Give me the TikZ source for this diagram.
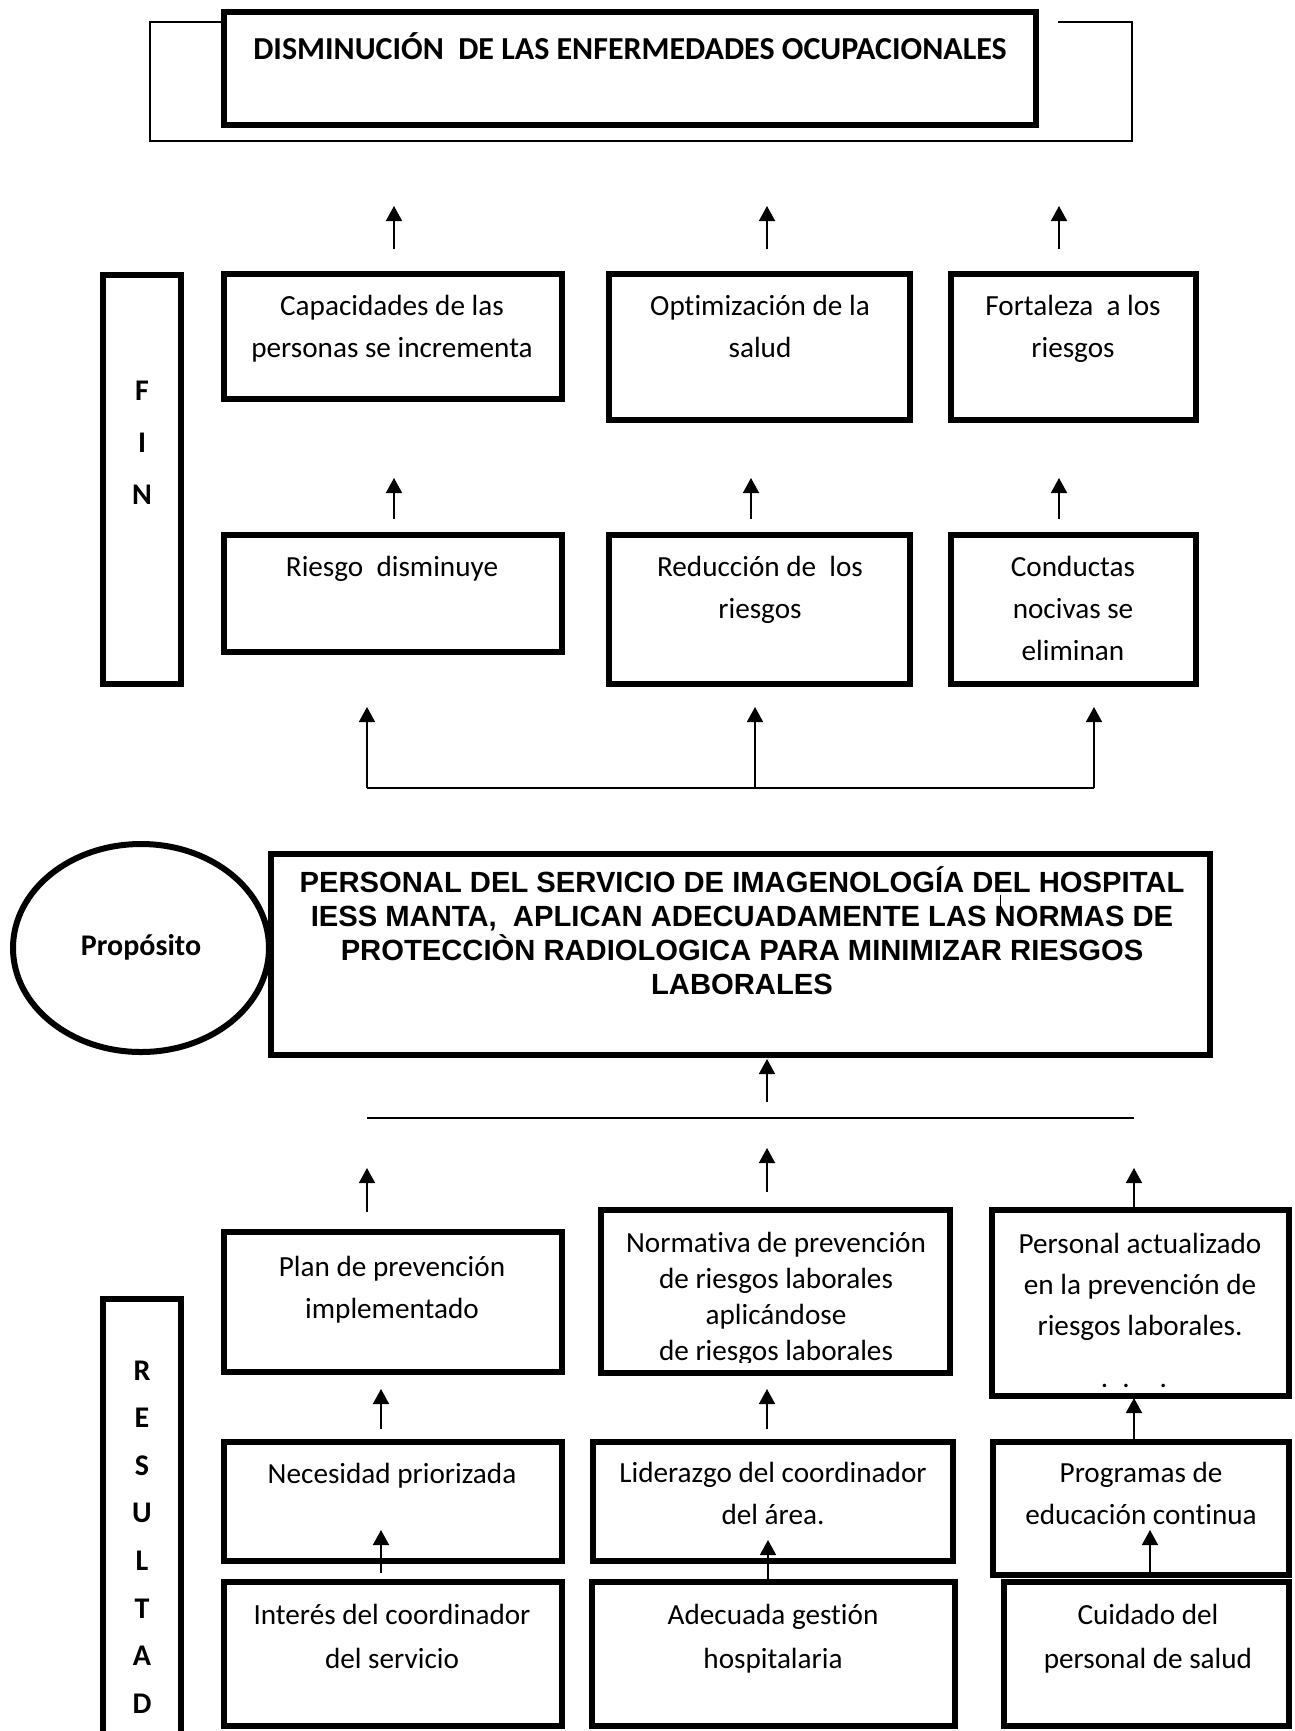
\documentclass[tikz,border=0pt]{standalone}
\usepackage{fontspec}
\setmainfont{Carlito}[Ligatures={NoCommon}]
\newfontfamily\arialfont{Liberation Sans}
\usetikzlibrary{arrows.meta,shapes.geometric}
\newcommand\mkbox[5]{\node[box, minimum width={(#4-#2)*0.5pt}, minimum height={(#5-#3)*0.5pt}] (#1) at ({(#2+#4)/2},{(#3+#5)/2}) {};}
\begin{document}
\begin{tikzpicture}[x=0.5pt,y=-0.5pt,
  box/.style={draw, line width=3pt, fill=white, inner sep=0pt, outer sep=0pt},
  txt/.style={align=center, inner sep=0pt, font=\fontsize{14.6}{21}\selectfont,
              execute at begin node=\strut, execute at end node=\strut},
  ltr/.style={align=center, inner sep=0pt, font=\fontsize{15}{#1}\selectfont\bfseries},
  arr/.style={line width=0.8pt, -{Triangle[width=8pt,length=7.5pt]}},
  thinline/.style={line width=0.8pt},
]
\useasboundingbox (0,0) rectangle (1295,1731);
\fill[white] (0,0) rectangle (1295,1731);

% ---- top frame and title
\coordinate (fr1) at (221,22); \coordinate (fr2) at (150,22); \coordinate (fr3) at (150,141);
\coordinate (fr4) at (1132,141); \coordinate (fr5) at (1132,22); \coordinate (fr6) at (1058,22);
\draw[thinline] (fr1) -- (fr2) -- (fr3) -- (fr4) -- (fr5) -- (fr6);
\mkbox{title}{224}{12}{1036}{125}
\node[inner sep=0pt, font=\fontsize{16}{19}\selectfont\bfseries] (titletxt) at (630,46) {DISMINUCIÓN~~DE LAS ENFERMEDADES OCUPACIONALES};

% ---- FIN
\mkbox{fin}{103}{275}{181}{684}
\node[ltr=26pt] (fintxt) at (142,443) {F\\I\\N};

% ---- row 2
\mkbox{A}{224}{274}{562}{399}
\mkbox{B}{609}{274}{910}{420}
\mkbox{C}{951}{274}{1196}{420}
\node[txt] (Atxt) at (392,333) {Capacidades de las\\personas se incrementa};
\node[txt] (Btxt) at (760,333) {Optimización de la\\salud};
\node[txt] (Ctxt) at (1073,333) {Fortaleza~~a los\\riesgos};

% ---- row 3
\mkbox{D}{224}{535}{562}{652}
\mkbox{E}{609}{535}{910}{684}
\mkbox{F}{951}{535}{1196}{684}
\node[txt] (Dtxt) at (392,568) {Riesgo~~disminuye};
\node[txt] (Etxt) at (760,594) {Reducción de~~los\\riesgos};
\node[txt] (Ftxt) at (1073,615) {Conductas\\nocivas se\\eliminan};

% ---- arrows upper part
\foreach \n/\x/\ya/\yb in {u1/394/249/206, u2/767/249/206, u3/1059/249/206,
                           m1/394/519/478, m2/751/519/478, m3/1059/519/478,
                           b1/367/788/707, b2/755/788/707, b3/1094/788/707}{
  \coordinate (\n s) at (\x,\ya); \coordinate (\n e) at (\x,\yb);
  \draw[arr] (\n s) -- (\n e);
}
\draw[thinline] (b1s) -- (b3s);

% ---- purpose
\node[draw, line width=3pt, ellipse, minimum width=128pt, minimum height=104pt, inner sep=0pt] (prop) at (141,948) {};
\node[inner sep=0pt, font=\fontsize{15}{18}\selectfont\bfseries] (proptxt) at (141,947) {Propósito};
\mkbox{purp}{271}{854}{1210}{1055}
\node[align=center, inner sep=0pt, font=\arialfont\fontsize{14.6}{17}\selectfont\bfseries] (purptxt) at (742,931)
  {PERSONAL DEL SERVICIO DE IMAGENOLOGÍA DEL HOSPITAL\\IESS MANTA,~~APLICAN ADECUADAMENTE LAS NORMAS DE\\PROTECCIÒN RADIOLOGICA PARA MINIMIZAR RIESGOS\\LABORALES};
\coordinate (st1) at (1000,895); \coordinate (st2) at (1000,923);
\draw[line width=0.5pt] (st1) -- (st2);

% ---- arrow into purpose and bar
\coordinate (pa) at (767,1102); \coordinate (pb) at (767,1059);
\draw[arr] (pa) -- (pb);
\coordinate (bar1) at (367,1118); \coordinate (bar2) at (1134,1118);
\draw[thinline] (bar1) -- (bar2);

% ---- RESULTADO
\mkbox{res}{103}{1299}{181}{1790}
\node[ltr=23.8pt] (restxt) at (142,1537) {R\\E\\S\\U\\L\\T\\A\\D};

% ---- row 5
\mkbox{G}{224}{1232}{562}{1372}
\mkbox{H}{601}{1210}{950}{1373}
\mkbox{I}{992}{1210}{1289}{1396}
\node[txt] (Gtxt) at (392,1294) {Plan de prevención\\implementado};
\begin{scope}
\clip (604,1213) rectangle (947,1362);
\node[txt, font=\fontsize{14.6}{18}\selectfont] (Htxt) at (776,1302) {Normativa de prevención\\de riesgos laborales\\aplicándose\\de riesgos laborales};
\end{scope}
\node[txt, font=\fontsize{14.6}{20.5}\selectfont] (Itxt) at (1140,1290) {Personal actualizado\\en la prevención de\\riesgos laborales.};
\node[txt] (Idots) at (1134,1379) {.\hspace{7pt}.\hspace{15pt}.};

% ---- row 6
\mkbox{J}{224}{1442}{562}{1561}
\mkbox{K}{593}{1442}{953}{1561}
\mkbox{L}{993}{1442}{1289}{1575}
\node[txt] (Jtxt) at (392,1475) {Necesidad priorizada};
\node[txt] (Ktxt) at (773,1500) {Liderazgo del coordinador\\del área.};
\node[txt] (Ltxt) at (1141,1500) {Programas de\\educación continua};

% ---- row 7
\mkbox{M}{224}{1582}{562}{1726}
\mkbox{N}{592}{1582}{955}{1726}
\mkbox{O}{1004}{1582}{1289}{1726}
\node[txt, font=\fontsize{14.6}{22}\selectfont] (Mtxt) at (392,1643) {Interés del coordinador\\del servicio};
\node[txt, font=\fontsize{14.6}{22}\selectfont] (Ntxt) at (773,1643) {Adecuada gestión\\hospitalaria};
\node[txt, font=\fontsize{14.6}{22}\selectfont] (Otxt) at (1148,1643) {Cuidado del\\personal de salud};

% ---- arrows lower part
\foreach \n/\x/\ya/\yb in {r1/367/1212/1168, r2/767/1192/1148, r3/1134/1210/1168,
                           s1/381/1429/1389, s2/767/1429/1389, s3/1134/1442/1398,
                           t1/381/1573/1530, t2/768/1582/1540, t3/1150/1577/1530}{
  \coordinate (\n s) at (\x,\ya); \coordinate (\n e) at (\x,\yb);
  \draw[arr] (\n s) -- (\n e);
}
\end{tikzpicture}
\end{document}
